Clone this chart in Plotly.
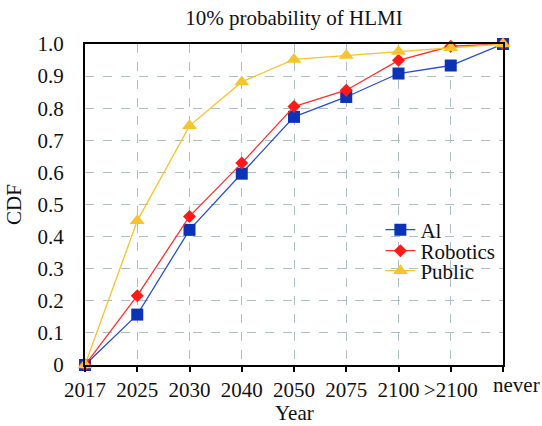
import plotly.graph_objects as go

categories = ["2017", "2025", "2030", "2040", "2050", "2075", "2100", ">2100", "never"]
ai_values = [0.0, 0.157, 0.421, 0.596, 0.773, 0.835, 0.908, 0.933, 1.0]
robotics_values = [0.0, 0.216, 0.463, 0.629, 0.805, 0.856, 0.949, 0.993, 1.0]
public_values = [0.0, 0.449, 0.745, 0.882, 0.952, 0.964, 0.977, 0.988, 1.0]
y_ticks = [0, 0.1, 0.2, 0.3, 0.4, 0.5, 0.6, 0.7, 0.8, 0.9, 1.0]
y_tick_labels = ["0", "0.1", "0.2", "0.3", "0.4", "0.5", "0.6", "0.7", "0.8", "0.9", "1.0"]

FONT = "Liberation Serif"
TXT = "#111111"
fig = go.Figure()
fig.add_trace(go.Scatter(x=categories, y=ai_values, name="Al", mode="lines+markers",
                         line=dict(color="#2a4fd0", width=1.3),
                         marker=dict(symbol="square", size=12, color="#0a33b8"),
                         cliponaxis=False, legend="legend"))
fig.add_trace(go.Scatter(x=categories, y=robotics_values, name="Robotics", mode="lines+markers",
                         line=dict(color="#ff3030", width=1.3),
                         marker=dict(symbol="diamond", size=10, color="#ff1a1a"),
                         cliponaxis=False, legend="legend2"))
fig.add_trace(go.Scatter(x=categories, y=public_values, name="Public", mode="lines+markers",
                         line=dict(color="#f5c431", width=1.3),
                         marker=dict(symbol="triangle-up", size=13, color="#f5c431"),
                         cliponaxis=False, legend="legend3"))

H = 426
PLOT_TOP, PLOT_BOTTOM = 44, 365
def leg(ypix):
    return dict(x=383 / 542, y=1 - ypix / H, xref="paper", yref="container",
                xanchor="left", yanchor="middle",
                bgcolor="rgba(0,0,0,0)", font=dict(size=21, family=FONT, color=TXT),
                itemwidth=30, borderwidth=0)

fig.update_layout(
    width=542, height=426,
    margin=dict(l=85, r=39, t=PLOT_TOP, b=H - PLOT_BOTTOM, autoexpand=False),
    paper_bgcolor="white", plot_bgcolor="white",
    font=dict(family=FONT, size=21, color=TXT),
    title=dict(text="10% probability of HLMI", x=0.5, xanchor="center", xref="paper",
               y=1 - 18 / H, yref="container", yanchor="middle",
               font=dict(size=21, family=FONT, color=TXT), automargin=False),
    showlegend=True,
    legend=leg(230),
    legend2=leg(251),
    legend3=leg(271),
)
fig.update_xaxes(
    type="category", categoryorder="array", categoryarray=categories,
    range=[0, 8], showline=True, linecolor="black", linewidth=2, mirror=True,
    ticks="outside", ticklen=5, tickcolor="black", tickwidth=1.5,
    tickvals=categories, ticktext=categories[:-1] + [""],
    showgrid=True, gridcolor="#aac0c4", griddash="dash", gridwidth=1,
    tickfont=dict(size=21, family=FONT, color=TXT), automargin=False,
)
fig.update_yaxes(
    range=[0, 1], showline=True, linecolor="black", linewidth=2, mirror=True,
    ticks="outside", ticklen=15, tickcolor="rgba(0,0,0,0)",
    tickvals=y_ticks, ticktext=y_tick_labels,
    showgrid=True, gridcolor="#aac0c4", griddash="dash", gridwidth=1,
    zeroline=False,
    title=dict(text="CDF", font=dict(size=21, family=FONT, color=TXT), standoff=10),
    tickfont=dict(size=21, family=FONT, color=TXT), automargin=True,
)
# x-axis title ("Year") placed below the tick labels
fig.add_annotation(x=0.5, y=(PLOT_BOTTOM - 413) / (PLOT_BOTTOM - PLOT_TOP),
                   xref="paper", yref="paper", text="Year", showarrow=False,
                   xanchor="center", yanchor="middle",
                   font=dict(size=21, family=FONT, color=TXT))
fig.add_annotation(x="never", y=0, xref="x", yref="y", text="never", showarrow=False,
                   xanchor="center", yanchor="top", xshift=13, yshift=-6,
                   font=dict(size=21, family=FONT, color=TXT))
fig.write_html("out.html", config={"displayModeBar": False},
               post_script="document.body.style.margin='0';")
